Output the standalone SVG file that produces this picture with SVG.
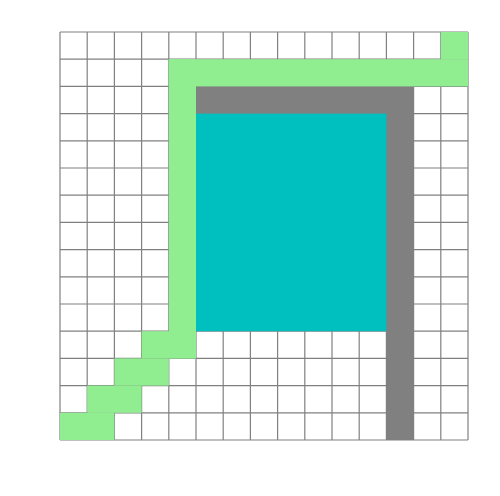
<svg xmlns="http://www.w3.org/2000/svg" width="500" height="496" viewBox="0 0 500 496">
<style>
.grid line{stroke:#808080;stroke-width:1.2}
.path{fill:#90EE90}
.wall{fill:#808080}
.room{fill:#00BFBF}
</style>
<rect width="500" height="496" fill="#fff"/>
<g class="grid">
<line x1="60" y1="32" x2="60" y2="440"/><line x1="87.2" y1="32" x2="87.2" y2="440"/><line x1="114.4" y1="32" x2="114.4" y2="440"/><line x1="141.6" y1="32" x2="141.6" y2="440"/><line x1="168.8" y1="32" x2="168.8" y2="440"/><line x1="196" y1="32" x2="196" y2="440"/><line x1="223.2" y1="32" x2="223.2" y2="440"/><line x1="250.4" y1="32" x2="250.4" y2="440"/><line x1="277.6" y1="32" x2="277.6" y2="440"/><line x1="304.8" y1="32" x2="304.8" y2="440"/><line x1="332" y1="32" x2="332" y2="440"/><line x1="359.2" y1="32" x2="359.2" y2="440"/><line x1="386.4" y1="32" x2="386.4" y2="440"/><line x1="413.6" y1="32" x2="413.6" y2="440"/><line x1="440.8" y1="32" x2="440.8" y2="440"/><line x1="468" y1="32" x2="468" y2="440"/>
<line x1="60" y1="32" x2="468" y2="32"/><line x1="60" y1="59.2" x2="468" y2="59.2"/><line x1="60" y1="86.4" x2="468" y2="86.4"/><line x1="60" y1="113.6" x2="468" y2="113.6"/><line x1="60" y1="140.8" x2="468" y2="140.8"/><line x1="60" y1="168" x2="468" y2="168"/><line x1="60" y1="195.2" x2="468" y2="195.2"/><line x1="60" y1="222.4" x2="468" y2="222.4"/><line x1="60" y1="249.6" x2="468" y2="249.6"/><line x1="60" y1="276.8" x2="468" y2="276.8"/><line x1="60" y1="304" x2="468" y2="304"/><line x1="60" y1="331.2" x2="468" y2="331.2"/><line x1="60" y1="358.4" x2="468" y2="358.4"/><line x1="60" y1="385.6" x2="468" y2="385.6"/><line x1="60" y1="412.8" x2="468" y2="412.8"/><line x1="60" y1="440" x2="468" y2="440"/>
</g>
<g id="wall">
<rect class="wall" x="196" y="86.4" width="217.6" height="27.2"/>
<rect class="wall" x="386.4" y="86.4" width="27.2" height="353.6"/>
</g>
<g id="room">
<rect class="room" x="196" y="113.6" width="190.4" height="217.6"/>
</g>
<g id="path">
<rect class="path" x="440.8" y="32" width="27.2" height="27.2"/>
<rect class="path" x="168.8" y="59.2" width="299.2" height="27.2"/>
<rect class="path" x="168.8" y="59.2" width="27.2" height="299.2"/>
<rect class="path" x="141.6" y="331.2" width="54.4" height="27.2"/>
<rect class="path" x="114.4" y="358.4" width="54.4" height="27.2"/>
<rect class="path" x="87.2" y="385.6" width="54.4" height="27.2"/>
<rect class="path" x="60" y="412.8" width="54.4" height="27.2"/>
</g>
</svg>
